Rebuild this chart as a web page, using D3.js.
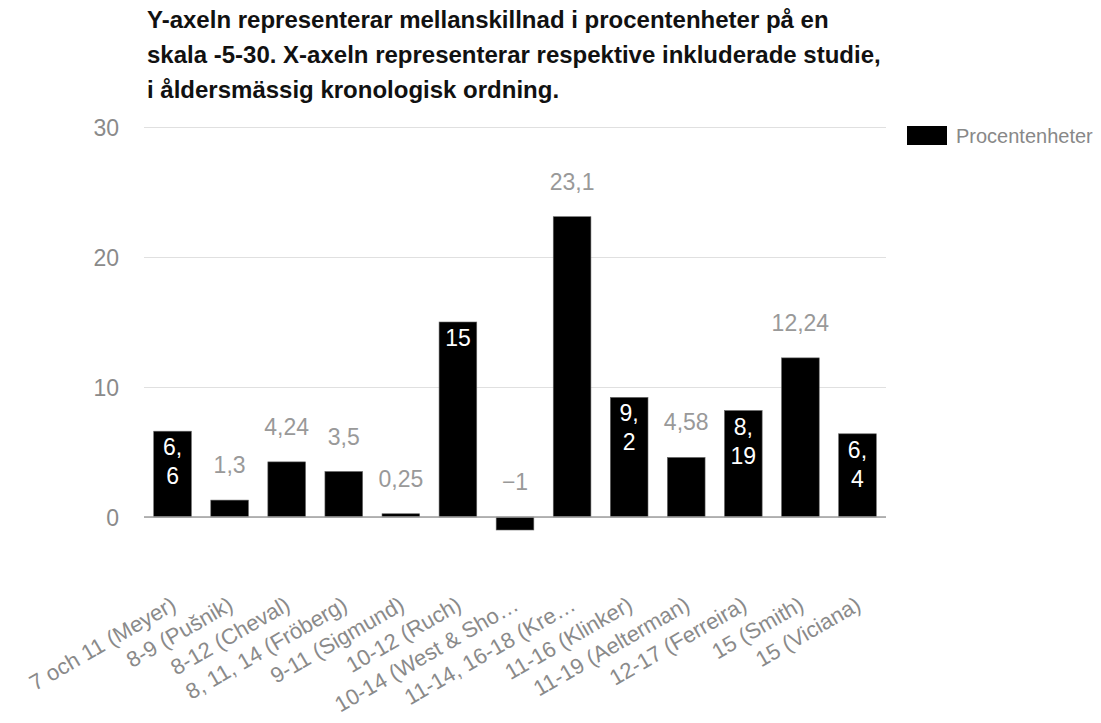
<!DOCTYPE html>
<meta charset="utf-8">
<style>
  body { margin: 0; background: #fff; }
  svg { font-family: "Liberation Sans", Arial, sans-serif; }
  .title { font-weight: bold; font-size: 24px; fill: #111; }
  .yaxis text { font-size: 23px; fill: #8a8a8a; }
  .xaxis text { font-size: 22px; fill: #8a8a8a; }
  .val { font-size: 23px; }
  .legend text { font-size: 20px; fill: #888; }
</style>

<svg class="chart" width="1101" height="723"></svg>

<script src="https://d3js.org/d3.v7.min.js"></script>
<script>

  var categories = ["7 och 11 (Meyer)", "8-9 (Pušnik)", "8-12 (Cheval)", "8, 11, 14 (Fröberg)",
      "9-11 (Sigmund)", "10-12 (Ruch)", "10-14 (West & Sho…", "11-14, 16-18 (Kre…",
      "11-16 (Klinker)", "11-19 (Aelterman)", "12-17 (Ferreira)", "15 (Smith)", "15 (Viciana)"];
  var values = [6.6, 1.3, 4.24, 3.5, 0.25, 15, -1, 23.1, 9.2, 4.58, 8.19, 12.24, 6.4];
  var yTicks = [0, 10, 20, 30];
  var seriesName = "Procentenheter";
  var titleLines = [
    "Y-axeln representerar mellanskillnad i procentenheter på en",
    "skala -5-30. X-axeln representerar respektive inkluderade studie,",
    "i åldersmässig kronologisk ordning."
  ];
  // bars whose value label sits inside the bar (as in the original)
  var insideIdx = [0, 5, 8, 10, 12];

  var svg = d3.select(".chart");

  var sv = d3.formatLocale({decimal: ",", thousands: " ", grouping: [3], currency: ["", " kr"], minus: "\u2212"});
  var fmt = sv.format("~g");

  var left = 144, right = 886;
  var x = d3.scaleBand()
      .domain(categories)
      .range([left, right])
      .paddingInner(0.34)
      .paddingOuter(0.17);

  var y = d3.scaleLinear()
      .domain([0, 30])
      .range([517, 127]);

  // title
  svg.append("text")
      .attr("class", "title")
      .selectAll("tspan")
      .data(titleLines)
      .enter().append("tspan")
        .attr("x", 147)
        .attr("y", function (d, i) { return 28 + i * 35; })
        .text(function (d) { return d; });

  // y axis + gridlines
  var yAxis = svg.append("g")
      .attr("class", "yaxis")
      .attr("transform", "translate(" + left + ",0)")
      .call(d3.axisLeft(y).tickValues(yTicks).tickSize(-(right - left)).tickPadding(25).tickFormat(fmt));
  yAxis.select(".domain").remove();
  yAxis.selectAll("line").attr("stroke", "#e0e0e0");
  yAxis.selectAll("text").attr("dy", "0.36em");

  // bars
  svg.append("g")
      .selectAll("rect")
      .data(values)
      .enter().append("rect")
        .attr("x", function (d, i) { return x(categories[i]); })
        .attr("width", x.bandwidth())
        .attr("y", function (d) { return y(Math.max(0, d)); })
        .attr("height", function (d) { return Math.abs(y(d) - y(0)); })
        .attr("fill", "#000")
        .attr("stroke", "#666")
        .attr("stroke-width", 0.6);

  // zero baseline
  svg.append("line")
      .attr("x1", left).attr("x2", right)
      .attr("y1", y(0)).attr("y2", y(0))
      .attr("stroke", "#9e9e9e")
      .attr("stroke-width", 1.5);

  // value labels
  var vals = svg.append("g").attr("class", "val");
  values.forEach(function (d, i) {
    var cx = x(categories[i]) + x.bandwidth() / 2;
    var s = fmt(d);
    if (insideIdx.indexOf(i) >= 0) {
      var parts = s.indexOf(",") >= 0 ? [s.slice(0, s.indexOf(",") + 1), s.slice(s.indexOf(",") + 1)] : [s];
      var t = vals.append("text")
          .attr("text-anchor", "middle")
          .attr("fill", "#fff");
      parts.forEach(function (p, j) {
        t.append("tspan")
            .attr("x", cx)
            .attr("y", y(d) + 24 + j * 29)
            .text(p);
      });
    } else {
      vals.append("text")
          .attr("text-anchor", "middle")
          .attr("fill", "#999")
          .attr("x", cx)
          .attr("y", y(Math.max(0, d)) - 27)
          .text(s);
    }
  });

  // x axis labels (slanted)
  var xAxis = svg.append("g")
      .attr("class", "xaxis")
      .attr("transform", "translate(0,609)")
      .call(d3.axisBottom(x).tickSize(0).tickPadding(0));
  xAxis.select(".domain").remove();
  xAxis.selectAll("text")
      .attr("y", 0)
      .attr("dy", 0)
      .attr("text-anchor", "end")
      .attr("transform", "translate(5,0) rotate(-30)");

  // legend
  var lg = svg.append("g").attr("class", "legend");
  lg.append("rect")
      .attr("x", 907).attr("y", 126)
      .attr("width", 40).attr("height", 19)
      .attr("fill", "#000");
  lg.append("text")
      .attr("x", 956).attr("y", 143)
      .text(seriesName);

</script>
